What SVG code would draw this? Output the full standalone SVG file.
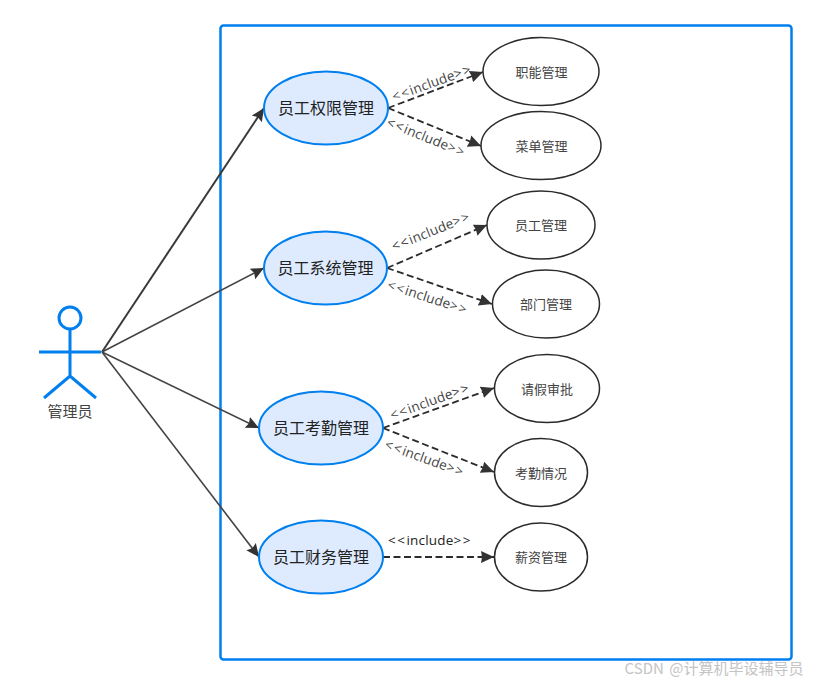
<svg xmlns="http://www.w3.org/2000/svg" width="816" height="684" viewBox="0 0 816 684">
<style>
text{font-family:"Noto Sans CJK SC","Noto Sans",sans-serif;text-anchor:middle;dominant-baseline:central}
.uc{fill:#deebff;stroke:#007fee;stroke-width:2}
.sub{fill:#fff;stroke:#2b2b2b;stroke-width:1.5}
.t1{font-size:16px;fill:#222}
.t2{font-size:13px;fill:#444}
.inc{font-family:"Open Sans","Noto Sans",sans-serif;font-size:13.500px;fill:#444;letter-spacing:.2px}
.w{letter-spacing:1.500px}
.a{stroke:#444;stroke-width:1.6;fill:none;marker-end:url(#arr)}
.d{stroke:#2b2b2b;stroke-width:1.800;stroke-dasharray:7 3.500;fill:none;marker-end:url(#arr2)}
.act{stroke:#007fee;stroke-width:3;fill:none}
</style>
<defs>
<marker id="arr" markerUnits="userSpaceOnUse" markerWidth="14" markerHeight="14" refX="13" refY="7" orient="auto"><path d="M0 1L13 7L0 13L2 7Z" fill="#333"/></marker>
<marker id="arr2" markerUnits="userSpaceOnUse" markerWidth="14" markerHeight="14" refX="13" refY="7" orient="auto"><path d="M0 1L13 7L0 13L1 7Z" fill="#333"/></marker>
</defs>
<rect id="boundary" x="220.500" y="25.500" width="571" height="634" rx="3" fill="#fff" stroke="#007fee" stroke-width="2.500"/>
<g id="connectors">
<path class="a" style="stroke-width:2;stroke:#3a3a3a" d="M102 352L264 108"/>
<path class="a" d="M102 352L264 268"/>
<path class="a" d="M102 352L259 428"/>
<path class="a" d="M102 352L259 557"/>
<path class="d" d="M388 108L483 72"/>
<path class="d" d="M388 108L481 146"/>
<path class="d" d="M387 268L487 225"/>
<path class="d" d="M387 268L492 304"/>
<path class="d" d="M383 428L494 388"/>
<path class="d" d="M383 428L494 472"/>
<path class="d" d="M383 557L494 557"/>
<text class="inc" transform="translate(432 82.500) rotate(-20)"><tspan class="w">&lt;&lt;</tspan>include<tspan class="w">&gt;&gt;</tspan></text>
<text class="inc" transform="translate(426.500 137) rotate(22)"><tspan class="w">&lt;&lt;</tspan>include<tspan class="w">&gt;&gt;</tspan></text>
<text class="inc" transform="translate(431 231) rotate(-22)"><tspan class="w">&lt;&lt;</tspan>include<tspan class="w">&gt;&gt;</tspan></text>
<text class="inc" transform="translate(428 297) rotate(18)"><tspan class="w">&lt;&lt;</tspan>include<tspan class="w">&gt;&gt;</tspan></text>
<text class="inc" transform="translate(430 401) rotate(-20)"><tspan class="w">&lt;&lt;</tspan>include<tspan class="w">&gt;&gt;</tspan></text>
<text class="inc" transform="translate(425 458) rotate(20)"><tspan class="w">&lt;&lt;</tspan>include<tspan class="w">&gt;&gt;</tspan></text>
<text class="inc" style="fill:#222" x="430" y="540"><tspan class="w">&lt;&lt;</tspan>include<tspan class="w">&gt;&gt;</tspan></text>
</g>
<g id="actor">
<circle class="act" cx="70" cy="318" r="11"/>
<path class="act" d="M70 329V376M39 352H101M44 398L70 376L96 398"/>
<text x="70" y="410" style="font-size:15px;fill:#444">管理员</text>
</g>
<g id="uc1"><ellipse class="uc" cx="326" cy="108" rx="62" ry="36.500"/><text class="t1" x="326" y="107">员工权限管理</text></g>
<g id="uc2"><ellipse class="uc" cx="325.500" cy="268" rx="61.500" ry="36.500"/><text class="t1" x="325.500" y="267">员工系统管理</text></g>
<g id="uc3"><ellipse class="uc" cx="321" cy="428" rx="62" ry="36.500"/><text class="t1" x="321" y="427">员工考勤管理</text></g>
<g id="uc4"><ellipse class="uc" cx="321" cy="557" rx="62" ry="36.500"/><text class="t1" x="321" y="556">员工财务管理</text></g>
<g id="s1"><ellipse class="sub" cx="541" cy="71.500" rx="58" ry="34"/><text class="t2" x="541.500" y="71">职能管理</text></g>
<g id="s2"><ellipse class="sub" cx="541" cy="145.500" rx="60" ry="34"/><text class="t2" x="541.500" y="145">菜单管理</text></g>
<g id="s3"><ellipse class="sub" cx="541" cy="225" rx="54" ry="34"/><text class="t2" x="541" y="224">员工管理</text></g>
<g id="s4"><ellipse class="sub" cx="546" cy="304" rx="53.500" ry="34"/><text class="t2" x="546" y="303">部门管理</text></g>
<g id="s5"><ellipse class="sub" cx="547" cy="388.500" rx="52.500" ry="34"/><text class="t2" x="547" y="388">请假审批</text></g>
<g id="s6"><ellipse class="sub" cx="541" cy="472.500" rx="46.500" ry="34"/><text class="t2" x="541" y="472">考勤情况</text></g>
<g id="s7"><ellipse class="sub" cx="541" cy="557" rx="46.500" ry="34"/><text class="t2" x="541" y="556">薪资管理</text></g>
<text x="714" y="667" style="font-size:15px;fill:#c4c4c4;word-spacing:2px">CSDN @计算机毕设辅导员</text>
</svg>
